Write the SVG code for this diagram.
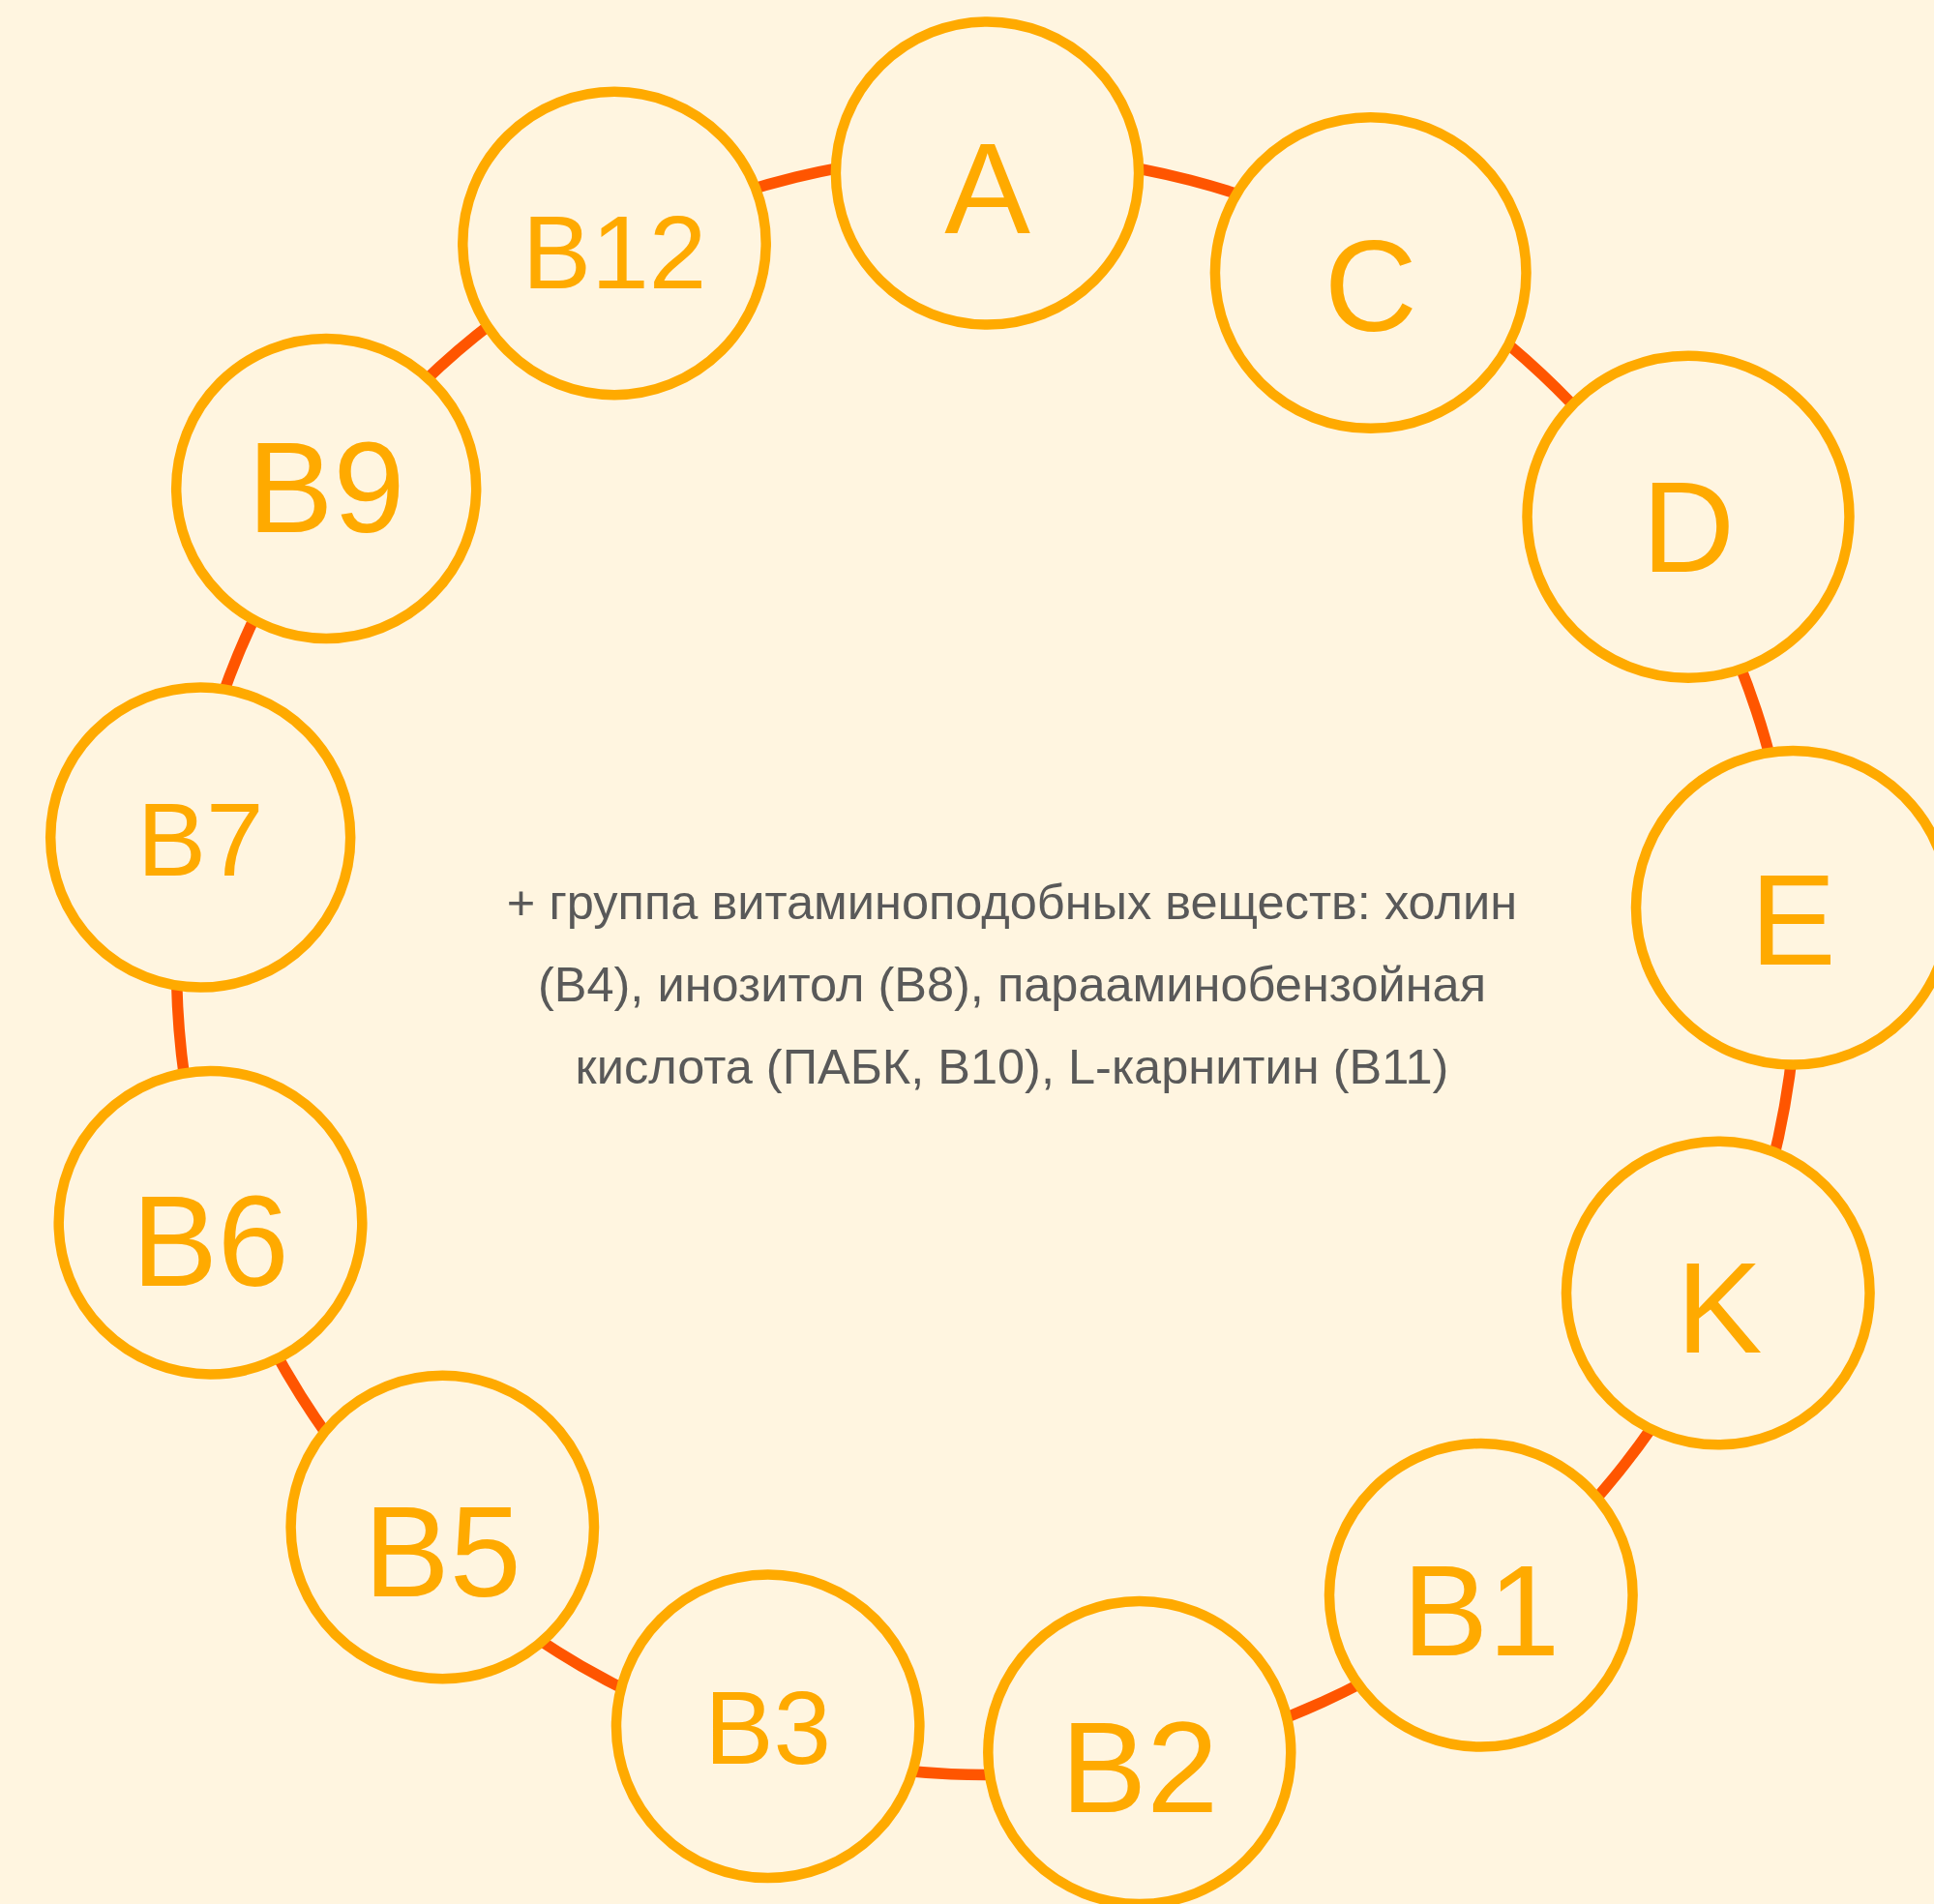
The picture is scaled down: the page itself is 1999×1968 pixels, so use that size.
<svg xmlns="http://www.w3.org/2000/svg" width="1999" height="1968" viewBox="0 0 1999 1968">
<style>
.bg{fill:#FFF5E0}
.edge{fill:none;stroke:#FF5500;stroke-width:11.5}
.node circle{fill:#FFF5E0;stroke:#FFAA00;stroke-width:10.5}
.node text{fill:#FFAA00;font-family:"Liberation Sans",Arial,sans-serif;text-anchor:middle}
.big{font-size:133px}
.small{font-size:107px}
.note{fill:#595959;font-family:"Liberation Sans",Arial,sans-serif;font-size:50.5px;text-anchor:middle}
</style>
<rect class="bg" x="0" y="0" width="1999" height="1968"/>
<g id="connectors">
<path class="edge" d="M1020.6 159.5 A837.5 837.5 0 0 1 1426.4 264.7"/>
<path class="edge" d="M1426.4 264.7 A837.5 837.5 0 0 1 1726.0 546.4"/>
<path class="edge" d="M1726.0 546.4 A837.5 837.5 0 0 1 1855.4 938.1"/>
<path class="edge" d="M1855.4 938.1 A837.5 837.5 0 0 1 1784.0 1340.2"/>
<path class="edge" d="M1784.0 1340.2 A837.5 837.5 0 0 1 1536.5 1656.3"/>
<path class="edge" d="M1536.5 1656.3 A837.5 837.5 0 0 1 1179.3 1819.3"/>
<path class="edge" d="M1179.3 1819.3 A837.5 837.5 0 0 1 788.6 1801.9"/>
<path class="edge" d="M788.6 1801.9 A837.5 837.5 0 0 1 437.5 1598.8"/>
<path class="edge" d="M437.5 1598.8 A837.5 837.5 0 0 1 225.2 1261.1"/>
<path class="edge" d="M225.2 1261.1 A837.5 837.5 0 0 1 193.2 863.4"/>
<path class="edge" d="M193.2 863.4 A837.5 837.5 0 0 1 340.5 507.3"/>
<path class="edge" d="M340.5 507.3 A837.5 837.5 0 0 1 635.8 252.9"/>
<path class="edge" d="M635.8 252.9 A837.5 837.5 0 0 1 1020.6 159.5"/>
</g>
<g id="node-A" class="node"><circle cx="1020.5" cy="179" r="156.6"/><text class="big" x="1020.5" y="241">A</text></g>
<g id="node-C" class="node"><circle cx="1416.7" cy="282" r="160.8"/><text class="big" x="1416.7" y="341.5">C</text></g>
<g id="node-D" class="node"><circle cx="1745" cy="534.2" r="166.5"/><text class="big" x="1745" y="590.7">D</text></g>
<g id="node-E" class="node"><circle cx="1853.3" cy="938.3" r="162.3"/><text class="big" x="1853.3" y="997">E</text></g>
<g id="node-K" class="node"><circle cx="1775.8" cy="1336.5" r="156.8"/><text class="big" x="1777" y="1397.7">K</text></g>
<g id="node-B1" class="node"><circle cx="1530.8" cy="1648.8" r="156.8"/><text class="big" x="1530.8" y="1710.7">B1</text></g>
<g id="node-B2" class="node"><circle cx="1177.8" cy="1811.5" r="156.5"/><text class="big" x="1177.8" y="1873">B2</text></g>
<g id="node-B3" class="node"><circle cx="793.7" cy="1784.3" r="156.7"/><text class="small" x="793.7" y="1823.3">B3</text></g>
<g id="node-B5" class="node"><circle cx="457.3" cy="1578.5" r="156.7"/><text class="big" x="457.3" y="1649.7">B5</text></g>
<g id="node-B6" class="node"><circle cx="217.5" cy="1263.7" r="156.8"/><text class="big" x="217.5" y="1329.3">B6</text></g>
<g id="node-B7" class="node"><circle cx="207.2" cy="865.6" r="155"/><text class="small" x="207.2" y="905.2">B7</text></g>
<g id="node-B9" class="node"><circle cx="337.2" cy="504.9" r="155"/><text class="big" x="337.2" y="549.5">B9</text></g>
<g id="node-B12" class="node"><circle cx="635" cy="251.5" r="156.7"/><text class="small" x="635" y="298">B12</text></g>
<g id="note">
<text class="note" x="1046" y="950">+ группа витаминоподобных веществ: холин</text>
<text class="note" x="1046" y="1035">(B4), инозитол (B8), парааминобензойная</text>
<text class="note" x="1046" y="1120">кислота (ПАБК, B10), L-карнитин (B11)</text>
</g>
</svg>
